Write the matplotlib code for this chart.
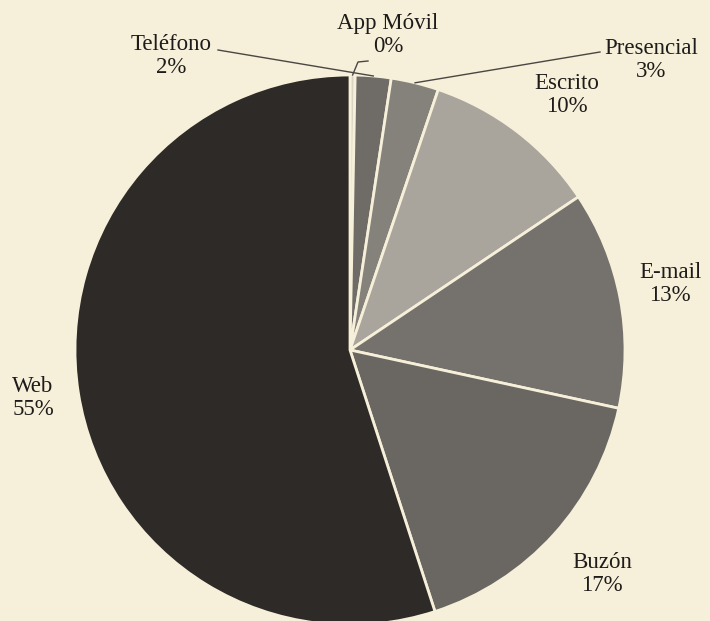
import numpy as np
from matplotlib import pyplot as plt

# data, clockwise from the top
channels = ["App Móvil", "Teléfono", "Presencial", "Escrito", "E-mail", "Buzón", "Web"]
shares = [0.3, 2.1, 2.8, 10.4, 12.8, 16.6, 55.0]
colors = ["#dad4c4", "#6f6b67", "#85817b", "#a9a59d", "#75716c", "#6a6662", "#2d2a28"]

bg = "#f6efd9"
W, H = 710, 621

fig = plt.figure(figsize=(W / 100, H / 100), dpi=100, facecolor=bg)
ax = fig.add_axes([0, 0, 1, 1])
ax.set_facecolor(bg)

cx, cy, r = 350, H - 350, 275
wedges, _ = ax.pie(shares, colors=colors, startangle=90, counterclock=False,
                   center=(cx, cy), radius=r, frame=True,
                   wedgeprops=dict(edgecolor=bg, linewidth=2))
ax.set_xlim(0, W)
ax.set_ylim(0, H)
ax.set_aspect("auto")
ax.axis("off")

# label centres in pixels (x, y from top)
label_pos = {
    "App Móvil": (388, 35),
    "Teléfono": (171, 56),
    "Presencial": (651, 60),
    "Escrito": (567, 95),
    "E-mail": (670, 284),
    "Buzón": (602, 574),
    "Web": (33, 398),
}
# leader lines start here and run to the wedge's outer edge
leader_from = {
    "App Móvil": (368, 61),
    "Teléfono": (218, 50),
    "Presencial": (600, 52),
}

font = dict(family=["Liberation Serif", "DejaVu Serif"], fontsize=16.5, color="#1e1c1a")
for name, val, w in zip(channels, shares, wedges):
    x, y = label_pos[name]
    ax.text(x, H - y, f"{name}\n{val:.0f}%", ha="center", va="center",
            linespacing=1.15, **font)
    if name in leader_from:
        mid = np.deg2rad((w.theta1 + w.theta2) / 2)
        tx, ty = cx + r * np.cos(mid), cy + r * np.sin(mid)
        sx, sy = leader_from[name]
        if name == "App Móvil":
            ax.plot([sx, sx - 10, tx], [H - sy, H - sy - 1, ty], color="#4a4643", lw=1)
        else:
            ax.plot([sx, tx], [H - sy, ty], color="#4a4643", lw=1)

plt.savefig("out.png", dpi=100, facecolor=bg)
